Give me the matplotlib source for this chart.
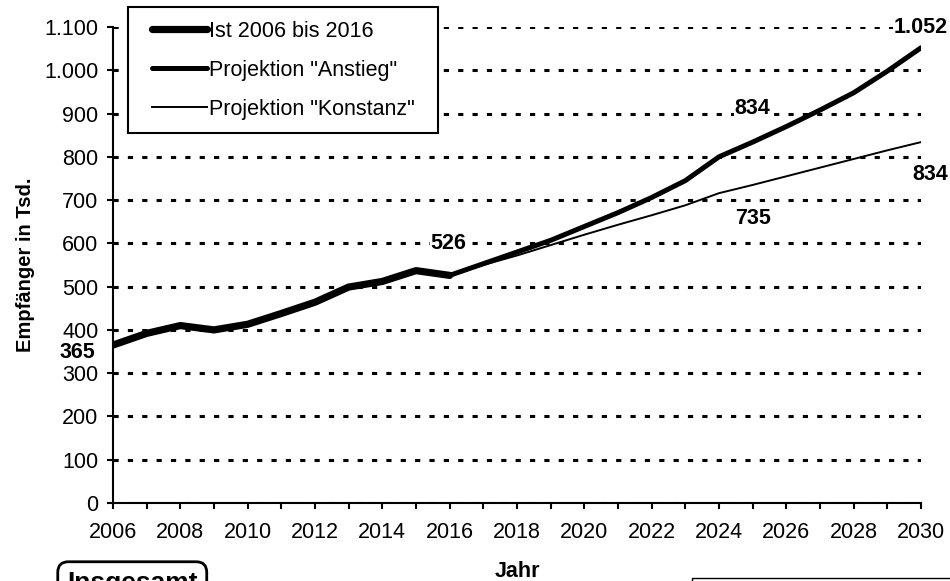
import matplotlib
matplotlib.use('Agg')
import matplotlib.pyplot as plt
from matplotlib.patches import Rectangle
from matplotlib.ticker import FuncFormatter, MultipleLocator

plt.rcParams['font.family'] = ['Liberation Sans', 'DejaVu Sans']
plt.rcParams['font.size'] = 15.5

# Empfänger in Tsd.
jahre_ist = [2006, 2007, 2008, 2009, 2010, 2011, 2012, 2013, 2014, 2015, 2016]
werte_ist = [365, 392, 410, 400, 413, 438, 464, 499, 512, 537, 526]

jahre_proj = [2016, 2017, 2018, 2019, 2020, 2021, 2022, 2023, 2024, 2025,
              2026, 2027, 2028, 2029, 2030]
werte_anstieg = [526, 553, 580, 607, 639, 671, 706, 745, 800, 834,
                 870, 908, 948, 998, 1052]
werte_konstanz = [526, 550, 572, 596, 620, 643, 665, 688, 716, 735,
                  755, 775, 795, 815, 834]

y_ticks = [0, 100, 200, 300, 400, 500, 600, 700, 800, 900, 1000, 1100]
x_ticks = list(range(2006, 2031, 2))

fig = plt.figure(figsize=(9.5, 5.81), dpi=100)
ax = fig.add_axes([113/950, 1-503/581, 808/950, 476/581])

ax.plot(jahre_ist, werte_ist, color='black', lw=5.2, solid_joinstyle='round',
        solid_capstyle='round', label='Ist 2006 bis 2016', zorder=4)
ax.plot(jahre_proj, werte_anstieg, color='black', lw=3.6, solid_joinstyle='round',
        solid_capstyle='round', label='Projektion "Anstieg"', zorder=3)
ax.plot(jahre_proj, werte_konstanz, color='black', lw=1.4, solid_joinstyle='round',
        label='Projektion "Konstanz"', zorder=3)

ax.set_xlim(2006, 2030)
ax.set_ylim(0, 1100)
ax.set_yticks(y_ticks)
ax.set_xticks(x_ticks)
ax.xaxis.set_minor_locator(MultipleLocator(1))
ax.yaxis.set_major_formatter(FuncFormatter(lambda v, p: f'{int(v):,}'.replace(',', '.')))

for s in ['top', 'right']:
    ax.spines[s].set_visible(False)
for s in ['left', 'bottom']:
    ax.spines[s].set_linewidth(1.5)
ax.tick_params(axis='both', which='both', direction='out', length=4.5, width=1.5, color='black')
ax.tick_params(axis='y', pad=6)
ax.tick_params(axis='x', pad=9)

ax.yaxis.grid(True, color='black', lw=2.2, linestyle=(0, (1.7, 3.0)))
ax.set_axisbelow(True)

ax.set_ylabel('Empfänger in Tsd.', fontweight='bold', fontsize=14.5)
ax.yaxis.set_label_coords(-0.097, 0.5)
ax.set_xlabel('Jahr', fontweight='bold', fontsize=15.5)
ax.xaxis.set_label_coords(0.5, -0.122)

# Datenbeschriftungen
lab = dict(fontweight='bold', fontsize=15.5, textcoords='offset pixels',
           annotation_clip=False, va='center', zorder=5,
           bbox=dict(boxstyle='square,pad=0.05', fc='white', ec='none'))
ax.annotate(f'{werte_ist[0]}', xy=(jahre_ist[0], werte_ist[0]), xytext=(-18, -7), ha='right', **lab)
ax.annotate(f'{werte_ist[-1]}', xy=(jahre_ist[-1], werte_ist[-1]), xytext=(-1, 32), ha='center', **lab)
ax.annotate(f'{werte_anstieg[9]}', xy=(jahre_proj[9], werte_anstieg[9]), xytext=(0, 34), ha='center', **lab)
ax.annotate(f'{werte_konstanz[9]}', xy=(jahre_proj[9], werte_konstanz[9]), xytext=(0, -34), ha='center', **lab)
ax.annotate(f'{werte_anstieg[-1]:,}'.replace(',', '.'), xy=(jahre_proj[-1], werte_anstieg[-1]),
            xytext=(27, 20), ha='right', **lab)
ax.annotate(f'{werte_konstanz[-1]}', xy=(jahre_proj[-1], werte_konstanz[-1]),
            xytext=(27, -32), ha='right', **lab)

# Legende mit eigenem Rahmen
leg = ax.legend(loc='upper left', bbox_to_anchor=(152/950, 1-21/581),
                bbox_transform=fig.transFigure, borderaxespad=0, frameon=False,
                fontsize=15.5, handlelength=2.55, handletextpad=0.1,
                labelspacing=0.83, borderpad=0.0)
leg.set_zorder(7)
ax.add_patch(Rectangle((128/950, 1-133/581), 310/950, 126/581, transform=fig.transFigure,
                       fc='white', ec='black', lw=1.5, zorder=6, clip_on=False))

fig.text(67/950, 1-571/581, 'Insgesamt', fontsize=19, fontweight='bold', va='top', ha='left',
         bbox=dict(boxstyle='round,pad=0.35,rounding_size=0.4', fc='white', ec='black', lw=2))
fig.add_artist(Rectangle((692/950, -0.1), 0.4, 0.1 + 3/581, transform=fig.transFigure,
                         fill=False, ec='black', lw=1))

fig.savefig('out.png', dpi=100)
